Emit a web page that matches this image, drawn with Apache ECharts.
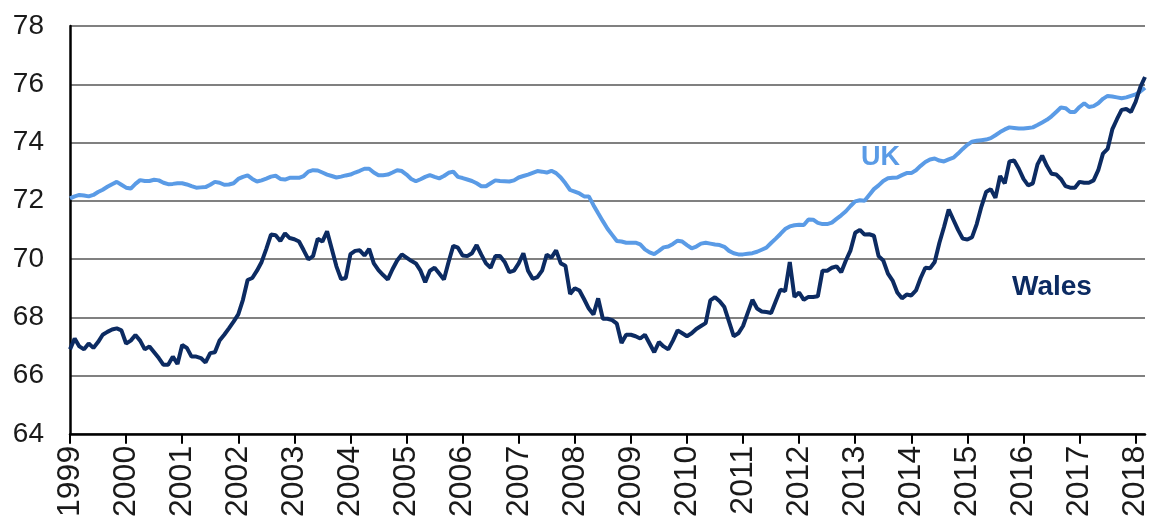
<!DOCTYPE html>
<html>
<head>
<meta charset="utf-8">
<script src="https://cdn.jsdelivr.net/npm/echarts@6/dist/echarts.min.js"></script>
<style>
html,body{margin:0;padding:0;background:#fff;}
#chart{width:1153px;height:520px;}
</style>
</head>
<body>
<div id="chart"></div>
<script>
// Years shown on the x axis (monthly data, Jan 1999 – Mar 2018)
const years = [1999,2000,2001,2002,2003,2004,2005,2006,2007,2008,2009,2010,2011,2012,2013,2014,2015,2016,2017,2018];
const lastMonthOf2018 = 3;

// Y axis ticks
const yTicks = [64,66,68,70,72,74,76,78];

// UK values, by year (monthly)
const uk1999 = [72.08,72.15,72.2,72.18,72.15,72.2,72.3,72.38,72.48,72.57,72.65,72.55];
const uk2000 = [72.45,72.42,72.58,72.71,72.68,72.68,72.72,72.7,72.62,72.57,72.58,72.6];
const uk2001 = [72.6,72.56,72.5,72.45,72.46,72.47,72.55,72.65,72.62,72.55,72.56,72.6];
const uk2002 = [72.75,72.82,72.87,72.75,72.66,72.7,72.76,72.83,72.86,72.75,72.73,72.79];
const uk2003 = [72.79,72.79,72.85,73.0,73.05,73.04,72.97,72.9,72.85,72.8,72.83,72.87];
const uk2004 = [72.9,72.97,73.03,73.1,73.1,72.97,72.88,72.88,72.9,72.97,73.05,73.02];
const uk2005 = [72.9,72.75,72.67,72.74,72.82,72.88,72.82,72.77,72.85,72.96,73.0,72.82];
const uk2006 = [72.78,72.73,72.68,72.6,72.5,72.5,72.6,72.7,72.68,72.67,72.66,72.7];
const uk2007 = [72.8,72.85,72.9,72.96,73.02,73.0,72.97,73.03,72.95,72.8,72.6,72.37];
const uk2008 = [72.31,72.25,72.15,72.15,71.85,71.57,71.3,71.04,70.83,70.62,70.6,70.56];
const uk2009 = [70.56,70.56,70.5,70.33,70.23,70.17,70.28,70.4,70.43,70.52,70.63,70.6];
const uk2010 = [70.48,70.37,70.43,70.53,70.56,70.53,70.5,70.48,70.42,70.28,70.2,70.16];
const uk2011 = [70.16,70.18,70.2,70.25,70.32,70.39,70.55,70.7,70.86,71.03,71.12,71.16];
const uk2012 = [71.18,71.17,71.36,71.35,71.24,71.2,71.2,71.25,71.38,71.5,71.64,71.82];
const uk2013 = [71.98,72.02,72.0,72.2,72.4,72.53,72.68,72.77,72.79,72.8,72.88,72.95];
const uk2014 = [72.95,73.05,73.2,73.33,73.42,73.45,73.38,73.35,73.42,73.48,73.62,73.78];
const uk2015 = [73.92,74.03,74.06,74.08,74.1,74.15,74.25,74.36,74.45,74.52,74.5,74.48];
const uk2016 = [74.48,74.5,74.52,74.6,74.69,74.78,74.9,75.05,75.2,75.18,75.05,75.05];
const uk2017 = [75.22,75.35,75.22,75.25,75.35,75.5,75.6,75.58,75.55,75.52,75.55,75.6];
const uk2018 = [75.65,75.75,75.88];

// Wales values, by year (monthly)
const wa1999 = [66.9,67.27,67.0,66.9,67.1,66.95,67.15,67.4,67.5,67.58,67.62,67.55];
const wa2000 = [67.1,67.2,67.39,67.2,66.9,67.0,66.8,66.6,66.37,66.37,66.65,66.4];
const wa2001 = [67.05,66.95,66.65,66.65,66.6,66.45,66.77,66.8,67.2,67.4,67.62,67.85];
const wa2002 = [68.1,68.6,69.28,69.35,69.6,69.9,70.35,70.84,70.82,70.62,70.88,70.72];
const wa2003 = [70.68,70.6,70.3,69.99,70.1,70.7,70.6,70.95,70.35,69.75,69.31,69.35];
const wa2004 = [70.17,70.28,70.3,70.12,70.35,69.85,69.62,69.45,69.3,69.65,69.95,70.16];
const wa2005 = [70.05,69.94,69.85,69.6,69.2,69.6,69.7,69.5,69.3,69.9,70.45,70.39];
const wa2006 = [70.12,70.1,70.2,70.48,70.15,69.85,69.7,70.1,70.1,69.9,69.55,69.6];
const wa2007 = [69.85,70.2,69.6,69.32,69.38,69.6,70.15,70.05,70.3,69.85,69.77,68.8];
const wa2008 = [69.0,68.92,68.62,68.3,68.1,68.65,67.95,67.95,67.9,67.78,67.12,67.4];
const wa2009 = [67.4,67.35,67.27,67.4,67.1,66.8,67.15,67.0,66.9,67.2,67.55,67.45];
const wa2010 = [67.35,67.45,67.6,67.7,67.8,68.58,68.69,68.55,68.35,67.85,67.35,67.45];
const wa2011 = [67.7,68.15,68.6,68.3,68.2,68.18,68.15,68.55,68.95,68.9,69.9,68.7];
const wa2012 = [68.85,68.6,68.7,68.7,68.72,69.6,69.6,69.7,69.75,69.55,69.95,70.3];
const wa2013 = [70.9,71.0,70.84,70.85,70.8,70.1,69.95,69.5,69.26,68.85,68.65,68.78];
const wa2014 = [68.75,68.92,69.35,69.7,69.68,69.9,70.55,71.1,71.7,71.35,71.0,70.7];
const wa2015 = [70.67,70.75,71.2,71.8,72.3,72.4,72.1,72.85,72.6,73.35,73.38,73.1];
const wa2016 = [72.75,72.53,72.6,73.25,73.55,73.2,72.93,72.9,72.75,72.5,72.45,72.45];
const wa2017 = [72.65,72.62,72.62,72.7,73.05,73.62,73.78,74.45,74.8,75.12,75.15,75.05];
const wa2018 = [75.4,75.9,76.25];

const ukValues = [].concat(uk1999,uk2000,uk2001,uk2002,uk2003,uk2004,uk2005,uk2006,uk2007,uk2008,uk2009,uk2010,uk2011,uk2012,uk2013,uk2014,uk2015,uk2016,uk2017,uk2018);
const walesValues = [].concat(wa1999,wa2000,wa2001,wa2002,wa2003,wa2004,wa2005,wa2006,wa2007,wa2008,wa2009,wa2010,wa2011,wa2012,wa2013,wa2014,wa2015,wa2016,wa2017,wa2018);

const months = [];
years.forEach(y => {
  const n = (y === years[years.length - 1]) ? lastMonthOf2018 : 12;
  for (let m = 1; m <= n; m++) months.push(y + '-' + (m < 10 ? '0' + m : m));
});

const FONT = '"Liberation Sans", Arial, sans-serif';
const chart = echarts.init(document.getElementById('chart'), null, {renderer: 'canvas'});
chart.setOption({
  animation: false,
  backgroundColor: '#ffffff',
  grid: {left: 70, right: 8, top: 26, bottom: 82, containLabel: false},
  xAxis: {
    type: 'category',
    data: months,
    boundaryGap: false,
    axisLine: {show: true, lineStyle: {color: '#000', width: 2.5}},
    axisTick: {show: true, length: 10, lineStyle: {color: '#000', width: 2},
      interval: (idx, val) => val.endsWith('-01')},
    axisLabel: {
      rotate: 90, margin: 12, color: '#1a1a1a', fontFamily: FONT, fontSize: 32,
      interval: (idx, val) => val.endsWith('-01'),
      formatter: v => v.slice(0, 4)
    },
    splitLine: {show: false}
  },
  yAxis: {
    type: 'value',
    min: yTicks[0], max: yTicks[yTicks.length - 1], interval: 2,
    axisLine: {show: true, lineStyle: {color: '#000', width: 2.5}},
    axisTick: {show: false},
    axisLabel: {margin: 26, color: '#1a1a1a', fontFamily: FONT, fontSize: 28},
    splitLine: {show: true, lineStyle: {color: '#808080', width: 2}}
  },
  series: [
    {
      name: 'UK', type: 'line', data: ukValues, showSymbol: false, smooth: false,
      lineStyle: {color: '#5a9be6', width: 4}, z: 3
    },
    {
      name: 'Wales', type: 'line', data: walesValues, showSymbol: false, smooth: false,
      lineStyle: {color: '#0c2b62', width: 4}, z: 4
    }
  ],
  graphic: [
    {type: 'text', left: 861, top: 144, style: {text: 'UK', fill: '#5a9be6', font: 'bold 27px ' + FONT}},
    {type: 'text', left: 1012, top: 273, style: {text: 'Wales', fill: '#0c2b62', font: 'bold 28px ' + FONT}}
  ]
});
</script>
</body>
</html>
